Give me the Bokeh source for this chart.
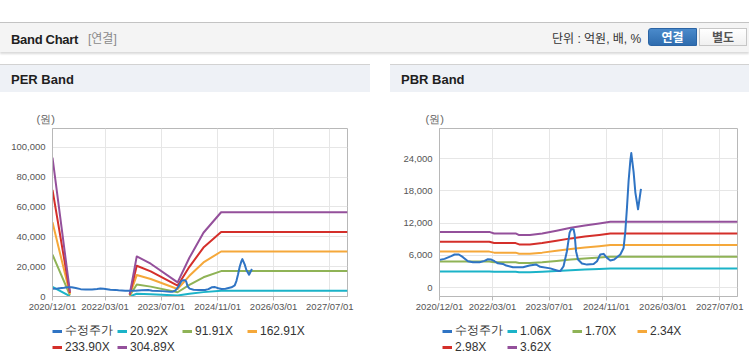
from datetime import datetime
import pandas as pd
from bokeh.plotting import figure
from bokeh.models import (Range1d, FixedTicker, DatetimeTickFormatter, NumeralTickFormatter,
                          Legend, LegendItem, Div, Spacer)
from bokeh.layouts import column, row
from bokeh.embed import file_html
from bokeh.resources import INLINE

NAN = float("nan")

# ---------------- data ----------------
price_name = "수정주가"
price_dates = ["2020-12-01", "2021-01-13", "2021-03-11", "2021-04-09", "2021-05-16", "2021-06-20",
               "2021-08-02", "2021-09-14", "2021-11-09", "2021-12-22", "2022-01-20", "2022-02-18",
               "2022-03-18", "2022-04-16", "2022-05-29", "2022-06-26", "2022-08-23", "2022-11-17",
               "2023-01-12", "2023-03-11", "2023-04-14", "2023-07-09", "2023-09-18", "2023-10-03",
               "2023-10-31", "2023-11-29", "2023-12-22", "2024-01-05", "2024-01-25", "2024-02-03",
               "2024-02-15", "2024-03-03", "2024-04-06", "2024-05-19", "2024-07-15", "2024-08-13",
               "2024-09-10", "2024-10-09", "2024-11-07", "2024-12-05", "2025-01-08", "2025-03-01",
               "2025-03-29", "2025-04-13", "2025-04-27", "2025-05-11", "2025-05-26", "2025-06-03",
               "2025-06-23", "2025-07-08", "2025-07-31", "2025-08-25"]
price_vals = [5180, 5370, 5870, 6180, 6180, 5680,
              4930, 4740, 4740, 5000, 5300, 5250,
              4930, 4550, 4430, 4120, 3800, 3800,
              4120, 4310, 3900, 3600, 3100, 3100,
              4000, 6800, 10240, 10870, 10870, 9930,
              6800, 5250, 4500, 4300, 4400, 4930,
              6180, 6300, 5550, 5060, 5250, 6180,
              7400, 10500, 14900, 19900, 23700, 25050,
              21500, 17700, 14600, 18400]

per_dates = ["2020-12-01", "2021-05-01", "2021-06-01", "2022-10-01", "2022-12-01", "2023-04-01",
             "2023-11-20", "2024-03-01", "2024-07-01", "2024-12-01", "2027-12-01"]
per_labels = ["20.92X", "91.91X", "162.91X", "233.90X", "304.89X"]
per_2092 = [6380, 210, NAN, 100, 1840, 1510, 650, 1780, 2930, 3870, 3870]
per_9191 = [28030, 920, NAN, 460, 8090, 6620, 2850, 7810, 12870, 17000, 17000]
per_16291 = [49690, 1630, NAN, 810, 14340, 11730, 5050, 13850, 22810, 30140, 30140]
per_23390 = [71340, 2340, NAN, 1170, 20580, 16840, 7250, 19880, 32750, 43270, 43270]
per_30489 = [92990, 3050, NAN, 1520, 26830, 21950, 9450, 25920, 42690, 56410, 56410]

pbr_dates = ["2020-12-01", "2022-02-01", "2022-03-15", "2022-09-15", "2022-10-15", "2023-01-15",
             "2023-05-01", "2023-09-01", "2024-01-01", "2024-05-01", "2024-09-01", "2024-12-05",
             "2027-12-01"]
pbr_labels = ["1.06X", "1.70X", "2.34X", "2.98X", "3.62X"]
pbr_106 = [3040, 3040, 2960, 2960, 2870, 2870, 2960, 3110, 3260, 3390, 3500, 3590, 3590]
pbr_170 = [4880, 4880, 4740, 4740, 4600, 4600, 4740, 4980, 5240, 5440, 5610, 5760, 5760]
pbr_234 = [6720, 6720, 6530, 6530, 6330, 6330, 6530, 6860, 7210, 7490, 7720, 7930, 7930]
pbr_298 = [8550, 8550, 8310, 8310, 8060, 8060, 8310, 8730, 9180, 9540, 9830, 10100, 10100]
pbr_362 = [10390, 10390, 10100, 10100, 9790, 9790, 10100, 10610, 11150, 11580, 11950, 12270, 12270]

x_tick_labels = ["2020/12/01", "2022/03/01", "2023/07/01", "2024/11/01", "2026/03/01", "2027/07/01"]
per_yticks = [0, 20000, 40000, 60000, 80000, 100000]
pbr_yticks = [0, 6000, 12000, 18000, 24000]

# ---------------- styles ----------------
PRICE_COLOR = "#2f74c4"
BAND_COLORS = ["#1bb3c8", "#8fb356", "#f5a83a", "#d42f2a", "#94509b"]
FONT = "Liberation Sans"
X_START = datetime(2020, 12, 1)
X_END = datetime(2027, 12, 1)
EPOCH = datetime(1970, 1, 1)
x_ticks_ms = [(datetime.strptime(s, "%Y/%m/%d") - EPOCH).total_seconds() * 1000 for s in x_tick_labels]


def make_chart(width, bl, br, band_dates, bands, y_start, y_end, yticks, unit_dx):
    p = figure(width=width, height=229, x_axis_type="datetime", output_backend="svg",
               toolbar_location=None, x_range=Range1d(X_START, X_END),
               y_range=Range1d(y_start, y_end), min_border_left=bl, min_border_right=br,
               min_border_top=35, min_border_bottom=26, margin=0)
    p.background_fill_color = "white"
    p.border_fill_color = "white"
    p.outline_line_color = "#b8b8b8"
    p.outline_line_width = 1

    p.title.text = "(원)"
    p.title.align = "left"
    p.title.offset = unit_dx
    p.title.standoff = 7
    p.title.text_font = FONT
    p.title.text_font_size = "11px"
    p.title.text_font_style = "normal"
    p.title.text_color = "#666666"

    p.xaxis.ticker = FixedTicker(ticks=x_ticks_ms)
    fmt = "%Y/%m/%d"
    p.xaxis.formatter = DatetimeTickFormatter(days=fmt, months=fmt, years=fmt, hours=fmt, hourmin=fmt)
    p.yaxis.ticker = FixedTicker(ticks=yticks)
    p.yaxis.formatter = NumeralTickFormatter(format="0,0")
    for ax in (p.xaxis[0], p.yaxis[0]):
        ax.axis_line_color = "#b8b8b8"
        ax.major_label_text_font = FONT
        ax.major_label_text_font_size = "9.5px"
        ax.major_label_text_color = "#555555"
        ax.minor_tick_line_color = None
        ax.major_tick_line_color = "#b8b8b8"
    p.xaxis.major_tick_out = 4
    p.xaxis.major_tick_in = 0
    p.xaxis.major_label_standoff = 0
    p.yaxis.major_tick_out = 0
    p.yaxis.major_tick_in = 0
    p.yaxis.major_label_standoff = 7
    p.grid.grid_line_color = "#e6e6e6"
    p.grid.grid_line_width = 1

    bd = pd.to_datetime(band_dates)
    for vals, col in zip(bands, BAND_COLORS):
        p.line(bd, vals, line_color=col, line_width=2, line_join="round")
    p.line(pd.to_datetime(price_dates), price_vals, line_color=PRICE_COLOR, line_width=2,
           line_join="round")
    return p


def make_legend(width, band_dates, bands, band_labels):
    # legend-only figure: series are drawn far outside its (0..1) ranges, only the legend shows
    q = figure(width=width, height=39, output_backend="svg", toolbar_location=None,
               x_range=Range1d(0, 1), y_range=Range1d(0, 1), x_axis_location=None,
               y_axis_location=None, min_border=0, margin=0)
    q.outline_line_color = None
    q.grid.grid_line_color = None
    q.background_fill_color = "white"
    q.border_fill_color = "white"
    rp = q.line(pd.to_datetime(price_dates), price_vals, line_color=PRICE_COLOR, line_width=3)
    items = [LegendItem(label=price_name, renderers=[rp])]
    bd = pd.to_datetime(band_dates)
    for vals, col, lab in zip(bands, BAND_COLORS, band_labels):
        r = q.line(bd, vals, line_color=col, line_width=3)
        items.append(LegendItem(label=lab, renderers=[r]))
    legend = Legend(items=items, location="top_left", orientation="horizontal", ncols=4,
                    glyph_width=10, glyph_height=12, label_height=12, label_width=51,
                    label_standoff=3, spacing=1, padding=0, margin=0,
                    border_line_color=None, background_fill_alpha=0,
                    label_text_font=FONT, label_text_font_size="12px", label_text_color="#333333")
    q.add_layout(legend)
    return q


per_bands = [per_2092, per_9191, per_16291, per_23390, per_30489]
pbr_bands = [pbr_106, pbr_170, pbr_234, pbr_298, pbr_362]
per = make_chart(370, 52, 23, per_dates, per_bands, 0, 112500, per_yticks, -16)
pbr = make_chart(359, 49, 12, pbr_dates, pbr_bands, -1630, 29620, pbr_yticks, -14)
per_leg = make_legend(318, per_dates, per_bands, per_labels)
pbr_leg = make_legend(307, pbr_dates, pbr_bands, pbr_labels)

FF = "font-family:'Liberation Sans','Noto Sans CJK KR',sans-serif;"
header_html = (
    f'<div style="position:relative;width:749px;height:30px;border-top:1px solid #c3c3c3;'
    f'background:#f4f4f4;box-shadow:0 2px 2px rgba(0,0,0,0.15);{FF}">'
    '<span style="position:absolute;left:11px;top:8px;font-size:13px;font-weight:bold;color:#1e1e1e;'
    'letter-spacing:-0.3px;white-space:nowrap;">Band Chart</span>'
    '<span style="position:absolute;left:88px;top:8px;font-size:12px;color:#8a8a8a;white-space:nowrap;">[연결]</span>'
    '<span style="position:absolute;left:552px;top:8px;font-size:12px;color:#333;white-space:nowrap;">단위 : 억원, 배, %</span>'
    '<span style="position:absolute;left:648px;top:5px;width:49px;height:18px;border:1px solid #2b64a4;'
    'border-radius:3px 0 0 3px;background:linear-gradient(#4a8acb,#2e6cae);color:#fff;font-size:12px;'
    'font-weight:bold;text-align:center;line-height:18px;">연결</span>'
    '<span style="position:absolute;left:699px;top:5px;width:48px;height:18px;border:1px solid #c6c6c6;'
    'background:linear-gradient(#ffffff,#f0f0f0);color:#555;font-size:12px;font-weight:bold;'
    'text-align:center;line-height:18px;">별도</span>'
    '</div>'
)
header = Div(text=header_html, width=749, height=31, margin=0)


def panel_header(title, w, left):
    html = (f'<div style="position:relative;width:{w}px;height:28px;border-top:1px solid #d2d2d2;'
            f'background:#eef1f6;{FF}">'
            f'<span style="position:absolute;left:{left}px;top:6px;font-size:13px;font-weight:bold;'
            f'color:#1e1e1e;white-space:nowrap;">{title}</span></div>')
    return Div(text=html, width=w, height=29, margin=0)


def bottom_line(w):
    return Div(text=f'<div style="width:{w}px;height:2px;background:#d0d0d0;"></div>',
               width=w, height=2, margin=0)


left_col = column(panel_header("PER Band", 370, 11), per,
                  row(Spacer(width=52, height=39, margin=0), per_leg, spacing=0, margin=0),
                  bottom_line(370), spacing=0, margin=0)
right_col = column(panel_header("PBR Band", 359, 11), pbr,
                   row(Spacer(width=52, height=39, margin=0), pbr_leg, spacing=0, margin=0),
                   bottom_line(359), spacing=0, margin=0)
layout = column(Spacer(width=749, height=22, margin=0), header, Spacer(width=749, height=11, margin=0),
                row(left_col, Spacer(width=20, height=10, margin=0), right_col, spacing=0, margin=0),
                spacing=0, margin=0)

open("out.html", "w").write(file_html(layout, INLINE))
